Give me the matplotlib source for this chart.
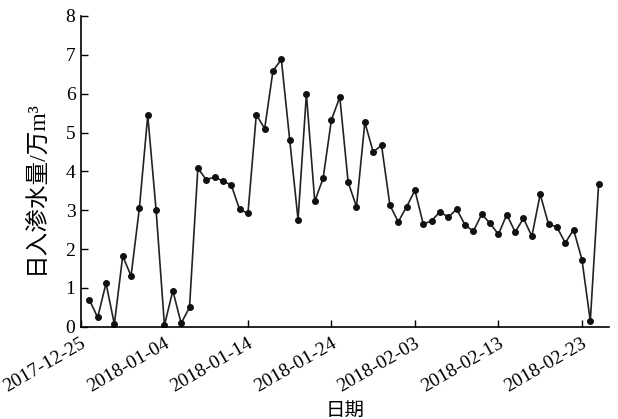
import numpy as np
import pandas as pd
import matplotlib
matplotlib.use('Agg')
import matplotlib.pyplot as plt
import matplotlib.dates as mdates
import matplotlib.transforms as mtransforms

plt.rcParams['font.family'] = ['Liberation Serif', 'Noto Sans CJK SC']

# daily infiltration, 2017-12-26 .. 2018-02-25
start_date = '2017-12-26'
infiltration = [0.70, 0.24, 1.12, 0.07, 1.82, 1.31, 3.06, 5.44, 3.00, 0.04,
                0.93, 0.09, 0.50, 4.08, 3.79, 3.85, 3.75, 3.65, 3.02, 2.92,
                5.46, 5.10, 6.59, 6.88, 4.81, 2.76, 5.99, 3.23, 3.82, 5.33,
                5.91, 3.72, 3.09, 5.26, 4.50, 4.67, 3.13, 2.70, 3.09, 3.51,
                2.64, 2.73, 2.96, 2.82, 3.03, 2.62, 2.46, 2.90, 2.66, 2.38,
                2.89, 2.44, 2.79, 2.33, 3.41, 2.64, 2.57, 2.16, 2.50, 1.73,
                0.15, 3.68]
tick_dates = ['2017-12-25', '2018-01-04', '2018-01-14', '2018-01-24',
              '2018-02-03', '2018-02-13', '2018-02-23']

dates = pd.date_range(start_date, periods=len(infiltration), freq='D')

fig = plt.figure(figsize=(6.18, 4.19), dpi=100)
ax = fig.add_axes([0.131, 0.220, 0.854, 0.742])

ax.plot(dates, infiltration, color='#222222', lw=1.2, marker='o', ms=4,
        mfc='#111111', mec='#111111')

ax.set_xlim(pd.Timestamp('2017-12-25'), pd.Timestamp('2018-02-26') + pd.Timedelta(hours=5))
ax.set_ylim(0, 8)
ax.set_yticks(range(0, 9))
ax.set_xticks(pd.to_datetime(tick_dates))
ax.xaxis.set_major_formatter(mdates.DateFormatter('%Y-%m-%d'))

ax.tick_params(direction='in', length=5, width=1, labelsize=14, pad=6)
ax.tick_params(axis='y', labelsize=14, pad=4)

shift = mtransforms.ScaledTranslation(8 / 100, 0, fig.dpi_scale_trans)
for lab in ax.get_xticklabels():
    lab.set_rotation(30)
    lab.set_ha('right')
    lab.set_transform(lab.get_transform() + shift)

for s in ['top', 'right']:
    ax.spines[s].set_visible(False)
for s in ['left', 'bottom']:
    ax.spines[s].set_linewidth(1.2)

ax.set_ylabel('日入渗水量/万m³', fontsize=17)
ax.yaxis.set_label_coords(-0.066, 0.45)
ax.set_xlabel('日期', fontsize=14, labelpad=5)

fig.savefig('out.png', dpi=100)
